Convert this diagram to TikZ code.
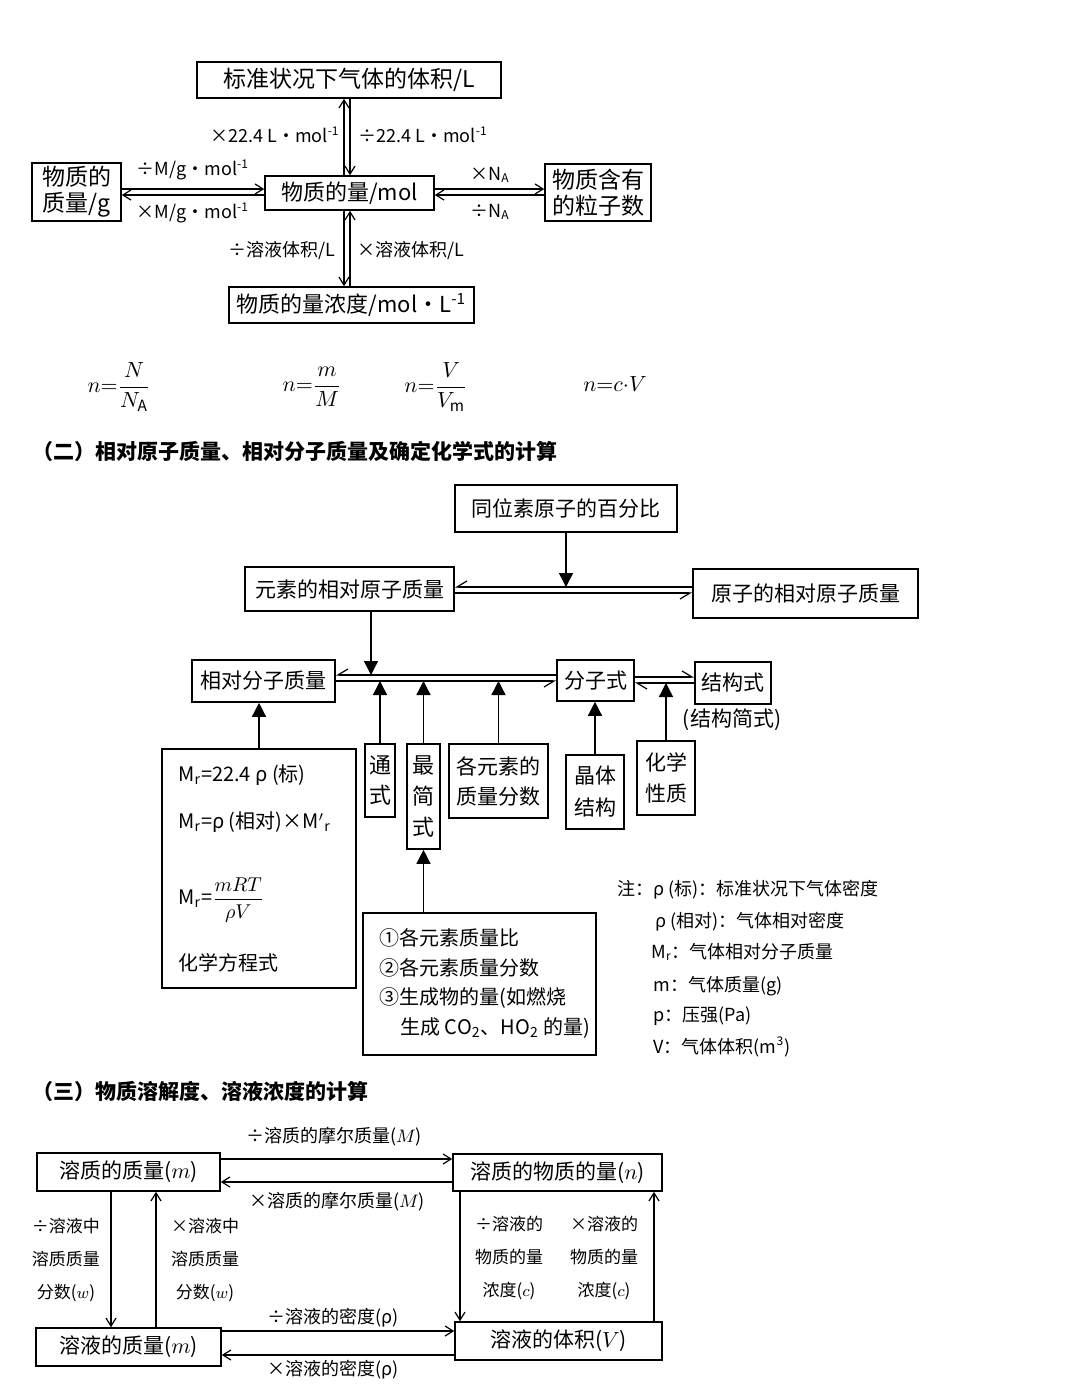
\documentclass[tikz,border=0pt]{standalone}
\usepackage{fontspec}
\setmainfont{Noto Sans CJK SC}
\usetikzlibrary{arrows.meta}
\begin{document}
\begin{tikzpicture}[x=0.5pt, y=-0.5pt]
% Styles
\tikzstyle{box} = [rectangle, draw, line width=0.8pt, inner sep=0pt, align=center]
\tikzstyle{txt} = [inner sep=0pt, align=center]
\tikzstyle{lbl} = [inner sep=0pt, align=center, font=\fontsize{9}{11}\selectfont]
\tikzstyle{vlbl} = [inner sep=0pt, align=center, font=\fontsize{8.5}{16.5}\selectfont]
\tikzstyle{note} = [inner sep=0pt, anchor=west, font=\fontsize{9}{11}\selectfont]
\tikzstyle{title} = [inner sep=0pt, anchor=west, font=\fontsize{10.5}{12}\selectfont\bfseries]
\tikzstyle{arrow} = [line width=0.6pt, -{Straight Barb[length=4pt, width=5pt]}]
\tikzstyle{tri} = [line width=0.7pt, -{Triangle[length=7pt, width=7pt]}]
\tikzstyle{harp} = [line width=0.6pt, -{Straight Barb[harpoon, length=5pt, width=6pt]}]
\tikzstyle{harpsw} = [line width=0.6pt, -{Straight Barb[harpoon, swap, length=5pt, width=6pt]}]

\fill [white] (0,0) rectangle (1080,1398);
\useasboundingbox (0,0) rectangle (1080,1398);

% Nodes (part 1)
\node (vol) [box, minimum width=152pt, minimum height=18pt, font=\fontsize{11.5}{13}\selectfont] at (349,80) {标准状况下气体的体积/L};
\node (mol) [box, minimum width=84.5pt, minimum height=17pt, font=\fontsize{11}{13}\selectfont] at (349.5,193) {物质的量/mol};
\node (mass) [box, minimum width=44.5pt, minimum height=29pt, font=\fontsize{11.5}{13}\selectfont] at (76.5,192) {物质的\\质量/g};
\node (part) [box, minimum width=53pt, minimum height=28.5pt, font=\fontsize{11.5}{13}\selectfont] at (598,192.5) {物质含有\\的粒子数};
\node (conc) [box, minimum width=122.5pt, minimum height=18pt, font=\fontsize{11}{13}\selectfont] at (351.5,305) {物质的量浓度/mol·L\textsuperscript{-1}};

\node (lvup) [lbl, anchor=east] at (340,135) {×22.4 L·mol\textsuperscript{-1}};
\node (lvdn) [lbl, anchor=west] at (358,135) {÷22.4 L·mol\textsuperscript{-1}};
\node (lmup) [lbl] at (193,170) {÷M/g·mol\textsuperscript{-1}};
\node (lmdn) [lbl] at (193,213) {×M/g·mol\textsuperscript{-1}};
\node (lnup) [lbl] at (490,175) {×N\textsubscript{A}};
\node (lndn) [lbl] at (490,212) {÷N\textsubscript{A}};
\node (lcdn) [lbl, anchor=east] at (336,250) {÷溶液体积/L};
\node (lcup) [lbl, anchor=west] at (357,250) {×溶液体积/L};

% Formulas
\node (fN) [txt, font=\fontsize{11}{13}\selectfont] at (119,387) {$n{=}\displaystyle\frac{N}{N_{\mathrm A}}$};
\node (fM) [txt, font=\fontsize{11}{13}\selectfont] at (312,387) {$n{=}\displaystyle\frac{m}{M}$};
\node (fV) [txt, font=\fontsize{11}{13}\selectfont] at (436,387) {$n{=}\displaystyle\frac{V}{V_{\mathrm m}}$};
\node (fc) [txt, font=\fontsize{11}{13}\selectfont] at (615,384) {$n{=}c{\cdot}V$};

\node (t2) [title] at (32,451) {（二）相对原子质量、相对分子质量及确定化学式的计算};

% Nodes (part 2)
\node (iso) [box, minimum width=111pt, minimum height=23.5pt, font=\fontsize{10.5}{12}\selectfont] at (566,508.5) {同位素原子的百分比};
\node (eleA) [box, minimum width=104.5pt, minimum height=22pt, font=\fontsize{10.5}{12}\selectfont] at (349.5,589) {元素的相对原子质量};
\node (atA) [box, minimum width=112.5pt, minimum height=24.5pt, font=\fontsize{10.5}{12}\selectfont] at (805.5,593.5) {原子的相对原子质量};
\node (relM) [box, minimum width=71.5pt, minimum height=21pt, font=\fontsize{10.5}{12}\selectfont] at (263.5,681) {相对分子质量};
\node (molF) [box, minimum width=38.5pt, minimum height=20.5pt, font=\fontsize{10.5}{12}\selectfont] at (595.5,680.5) {分子式};
\node (strF) [box, minimum width=38pt, minimum height=21pt, font=\fontsize{10.5}{12}\selectfont] at (733,683) {结构式};
\node (strS) [txt, font=\fontsize{10.5}{12}\selectfont] at (732,720) {(结构简式)};

\node (bigL) [box, minimum width=97pt, minimum height=119.5pt] at (259,868.5) {};
\node (e1) [txt, anchor=west, font=\fontsize{10}{12}\selectfont] at (178,775) {M\textsubscript{r}=22.4 ρ (标)};
\node (e2) [txt, anchor=west, font=\fontsize{10}{12}\selectfont] at (178,822) {M\textsubscript{r}=ρ (相对)×M\textsuperscript{$\prime$}\textsubscript{r}};
\node (e3) [txt, anchor=west, font=\fontsize{10}{12}\selectfont] at (178,900) {M\textsubscript{r}=$\displaystyle\frac{mRT}{\rho V}$};
\node (e4) [txt, anchor=west, font=\fontsize{10}{12}\selectfont] at (178,963) {化学方程式};

\node (gen) [box, minimum width=15pt, minimum height=36.5pt, font=\fontsize{11}{15}\selectfont] at (380,780.5) {通\\式};
\node (simp) [box, minimum width=16.5pt, minimum height=52.5pt, font=\fontsize{11}{15.5}\selectfont] at (423.5,796.5) {最\\简\\式};
\node (frac) [box, minimum width=49.5pt, minimum height=37pt, font=\fontsize{10.5}{15}\selectfont] at (498.5,781) {各元素的\\质量分数};
\node (cryst) [box, minimum width=29pt, minimum height=37pt, font=\fontsize{10.5}{16}\selectfont] at (595,792) {晶体\\结构};
\node (chem) [box, minimum width=29pt, minimum height=37pt, font=\fontsize{10.5}{15.5}\selectfont] at (666,778) {化学\\性质};

\node (data) [box, minimum width=116.5pt, minimum height=71pt] at (479.5,984) {};
\node (d1) [txt, anchor=west, font=\fontsize{10}{12}\selectfont] at (379,938) {①各元素质量比};
\node (d2) [txt, anchor=west, font=\fontsize{10}{12}\selectfont] at (379,968) {②各元素质量分数};
\node (d3) [txt, anchor=west, font=\fontsize{10}{12}\selectfont] at (379,998) {③生成物的量(如燃烧};
\node (d4) [txt, anchor=west, font=\fontsize{10}{12}\selectfont] at (400,1028) {生成 CO\textsubscript{2}、HO\textsubscript{2} 的量)};

\node (n1) [note] at (617,890) {注：ρ (标)：标准状况下气体密度};
\node (n2) [note] at (655,922) {ρ (相对)：气体相对密度};
\node (n3) [note] at (651,952) {M\textsubscript{r}：气体相对分子质量};
\node (n4) [note] at (653,986) {m：气体质量(g)};
\node (n5) [note] at (653,1016) {p：压强(Pa)};
\node (n6) [note] at (653,1047) {V：气体体积(m\textsuperscript{3})};

\node (t3) [title] at (32,1091) {（三）物质溶解度、溶液浓度的计算};

% Nodes (part 3)
\node (soluM) [box, minimum width=91.5pt, minimum height=19pt, font=\fontsize{10.5}{12}\selectfont] at (128.5,1172) {溶质的质量($m$)};
\node (soluN) [box, minimum width=104.5pt, minimum height=18.5pt, font=\fontsize{10.5}{12}\selectfont] at (557.5,1172.5) {溶质的物质的量($n$)};
\node (solnM) [box, minimum width=92.5pt, minimum height=19pt, font=\fontsize{10.5}{12}\selectfont] at (128.5,1347) {溶液的质量($m$)};
\node (solnV) [box, minimum width=103.5pt, minimum height=19pt, font=\fontsize{10.5}{12}\selectfont] at (558.5,1341) {溶液的体积($V$)};

\node (lMdiv) [lbl] at (334,1137) {÷溶质的摩尔质量($M$)};
\node (lMmul) [lbl] at (337,1202) {×溶质的摩尔质量($M$)};
\node (lrdiv) [lbl] at (333,1318) {÷溶液的密度(ρ)};
\node (lrmul) [lbl] at (333,1370) {×溶液的密度(ρ)};
\node (lwdiv) [vlbl] at (66,1260) {÷溶液中\\溶质质量\\分数($w$)};
\node (lwmul) [vlbl] at (205,1260) {×溶液中\\溶质质量\\分数($w$)};
\node (lcdiv) [vlbl] at (509,1258) {÷溶液的\\物质的量\\浓度($c$)};
\node (lcmul) [vlbl] at (604,1258) {×溶液的\\物质的量\\浓度($c$)};

% Arrows (part 1)
\draw [arrow] (mol.north -| 344,0) -- (vol.south -| 344,0);
\draw [arrow] (vol.south -| 350,0) -- (mol.north -| 350,0);
\draw [arrow] (mol.south -| 344,0) -- (conc.north -| 344,0);
\draw [arrow] (conc.north -| 350,0) -- (mol.south -| 350,0);
\draw [arrow] (mass.east |- 0,189) -- (mol.west |- 0,189);
\draw [arrow] (mol.west |- 0,195) -- (mass.east |- 0,195);
\draw [arrow] (mol.east |- 0,189) -- (part.west |- 0,189);
\draw [arrow] (part.west |- 0,195) -- (mol.east |- 0,195);

% Arrows (part 2)
\draw [harpsw] (atA.west |- 0,587) -- (eleA.east |- 0,587);
\draw [harpsw] (eleA.east |- 0,593) -- (atA.west |- 0,593);
\draw [tri] (iso) -- (iso |- 0,587);
\draw [harpsw] (molF.west |- 0,675) -- (relM.east |- 0,675);
\draw [harpsw] (relM.east |- 0,681) -- (molF.west |- 0,681);
\draw [tri] (eleA.south -| 371,0) -- (371,675);
\draw [harp] (molF.east |- 0,677) -- (strF.west |- 0,677);
\draw [harp] (strF.west |- 0,683) -- (molF.east |- 0,683);
\draw [tri] (gen) -- (gen |- 0,681);
\draw [tri] (simp) -- (simp |- 0,681);
\draw [tri] (frac) -- (frac |- 0,681);
\draw [tri] (bigL) -- (bigL |- relM.south);
\draw [tri] (cryst) -- (cryst |- molF.south);
\draw [tri] (chem) -- (chem |- 0,683);
\draw [tri] (data.north -| simp.south) -- (simp.south);

% Arrows (part 3)
\draw [arrow] (soluM.east |- 0,1159) -- (soluN.west |- 0,1159);
\draw [arrow] (soluN.west |- 0,1182) -- (soluM.east |- 0,1182);
\draw [arrow] (solnM.east |- 0,1331) -- (solnV.west |- 0,1331);
\draw [arrow] (solnV.west |- 0,1355) -- (solnM.east |- 0,1355);
\draw [arrow] (soluM.south -| 111,0) -- (solnM.north -| 111,0);
\draw [arrow] (solnM.north -| 156,0) -- (soluM.south -| 156,0);
\draw [arrow] (soluN.south -| 460,0) -- (solnV.north -| 460,0);
\draw [arrow] (solnV.north -| 654,0) -- (soluN.south -| 654,0);

\end{tikzpicture}
\end{document}
